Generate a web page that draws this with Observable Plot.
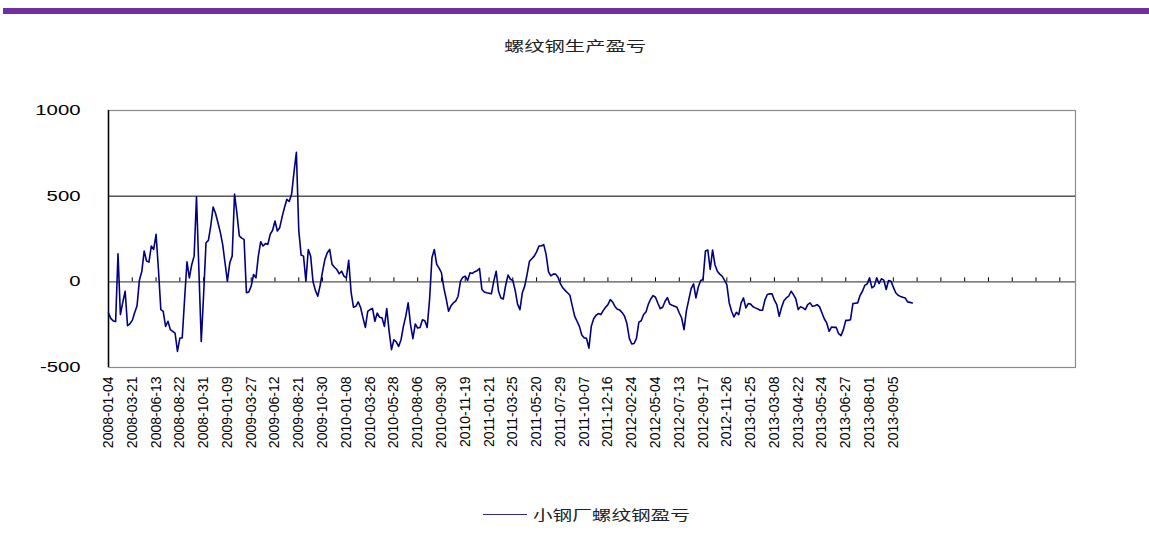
<!DOCTYPE html>
<html>
<head>
<meta charset="utf-8">
<script src="https://cdn.jsdelivr.net/npm/d3@7"></script>
<script src="https://cdn.jsdelivr.net/npm/@observablehq/plot@0.6"></script>
<style>
  html, body { margin: 0; padding: 0; background: #fff; }
  #wrap { position: relative; width: 1149px; height: 544px; overflow: hidden; }
  #bar { position: absolute; left: 3px; top: 8px; width: 1146px; height: 6px; background: #7030a0; }
  #title { position: absolute; left: 0; width: 1149px; top: 35px; text-align: center;
           font-family: "Noto Sans CJK SC", sans-serif; font-size: 14px; color: #222; }
  #title span { display: inline-block; transform: scaleX(1.45); transform-origin: center; }
  #legend { position: absolute; left: 483px; top: 504px; height: 20px; display: flex; align-items: center;
            font-family: "Noto Sans CJK SC", sans-serif; font-size: 14px; color: #222; }
  #legend .sw { width: 44px; height: 0; border-top: 1.5px solid #2a2a90; margin-right: 6px; }
  #legend span { display: inline-block; transform: scaleX(1.4); transform-origin: left center; }
  #chart { position: absolute; left: 0; top: 0; }
</style>
</head>
<body>
<div id="wrap">
  <div id="bar"></div>
  <div id="title"><span>螺纹钢生产盈亏</span></div>
  <div id="chart"></div>
  <div id="legend"><div class="sw"></div><span>小钢厂螺纹钢盈亏</span></div>
</div>
<script>
// Series: 小钢厂螺纹钢盈亏 (one value per category, in order)
const profit = [
  -182,-215,-228,-232,164,-191,-120,-55,-256,-245,
  -225,-180,-140,10,60,180,121,115,209,189,
  277,72,-162,-172,-260,-230,-279,-289,-300,-406,
  -328,-328,-100,117,23,100,150,496,74,-348,
  -74,228,242,326,437,400,346,290,219,110,
  4,111,150,512,400,268,255,248,-64,-59,
  -25,43,23,150,234,209,223,219,277,301,
  355,297,316,379,434,482,469,512,640,756,
  300,156,150,4,189,150,0,-50,-84,-20,
  60,131,170,189,102,85,72,47,62,33,
  23,125,-60,-148,-143,-117,-150,-210,-266,-172,
  -162,-155,-230,-182,-207,-210,-260,-156,-289,-396,
  -338,-350,-377,-338,-260,-200,-123,-250,-332,-246,
  -270,-266,-221,-227,-266,-104,141,189,102,80,
  53,-35,-100,-172,-140,-123,-113,-84,4,27,
  33,8,53,49,59,65,78,-45,-59,-64,
  -67,-70,4,62,-55,-94,-100,-20,39,15,
  8,-50,-130,-162,-64,-25,43,120,135,150,
  175,209,209,217,160,60,35,45,45,27,
  -10,-35,-50,-64,-78,-140,-200,-230,-260,-310,
  -326,-330,-387,-260,-215,-195,-185,-191,-168,-148,
  -133,-104,-118,-145,-160,-165,-180,-201,-245,-330,
  -363,-360,-330,-235,-227,-191,-176,-130,-100,-80,
  -90,-125,-156,-148,-115,-92,-130,-137,-142,-148,
  -182,-211,-279,-168,-104,-40,-12,-94,-30,8,
  14,180,186,72,186,100,62,45,33,10,
  -16,-123,-172,-205,-178,-191,-123,-94,-152,-127,
  -130,-146,-152,-158,-166,-166,-107,-74,-70,-70,
  -107,-133,-201,-150,-110,-94,-84,-55,-74,-100,
  -162,-146,-152,-162,-133,-123,-143,-140,-133,-146,
  -182,-217,-240,-289,-264,-266,-266,-303,-314,-279,
  -225,-225,-221,-127,-125,-123,-80,-55,-21,-12,
  23,-35,-25,23,-10,18,10,-45,8,4,
  -31,-64,-78,-85,-90,-94,-117,-120,-123
];

// Category tick labels (every 10th category)
const dateLabels = [
  "2008-01-04","2008-03-21","2008-06-13","2008-08-22","2008-10-31",
  "2009-01-09","2009-03-27","2009-06-12","2009-08-21","2009-10-30",
  "2010-01-08","2010-03-26","2010-05-28","2010-08-06","2010-09-30",
  "2010-11-19","2011-01-21","2011-03-25","2011-05-20","2011-07-29",
  "2011-10-07","2011-12-16","2012-02-24","2012-05-04","2012-07-13",
  "2012-09-17","2012-11-26","2013-01-25","2013-03-08","2013-04-22",
  "2013-05-24","2013-06-27","2013-08-01","2013-09-05"
];
const labelEvery = 10;
const axisCategories = 406.6;   // category axis extent (incl. empty slots)
const yTicks = [-500, 0, 500, 1000];
const gridValues = [500];

const data = profit.map((v, i) => ({i, v}));
const labelIdx = dateLabels.map((_, k) => k * labelEvery);
const tickIdx = d3.range(0, axisCategories, labelEvery);

const chart = Plot.plot({
  width: 1149,
  height: 544,
  marginLeft: 108,
  marginRight: 74,
  marginTop: 110,
  marginBottom: 177,
  style: {fontFamily: "'Liberation Sans', Arial, sans-serif", background: "transparent", color: "#000"},
  x: {domain: [0, axisCategories]},
  y: {domain: [-500, 1000]},
  marks: [
    Plot.frame({stroke: "#8c8c8c", strokeWidth: 1.2}),
    Plot.ruleY(gridValues, {stroke: "#000", strokeWidth: 1}),
    Plot.ruleY([0], {stroke: "#555", strokeWidth: 1.2}),
    Plot.ruleX(tickIdx, {x: d => d, y1: 0, y2: 0, insetTop: -4, stroke: "#000", strokeWidth: 1}),
    Plot.ruleX([0], {stroke: "#000", strokeWidth: 1.5}),
    Plot.line(data, {x: "i", y: "v", stroke: "#000080", strokeWidth: 1.6}),
    Plot.axisY({ticks: yTicks, tickSize: 0, tickPadding: 28, label: null, fontSize: 14,
                tickFormat: d => String(d)}),
    Plot.axisX({ticks: labelIdx, tickSize: 0, tickPadding: 9, tickRotate: -90,
                tickFormat: d => dateLabels[d / labelEvery], label: null, fontSize: 14})
  ]
});
document.getElementById("chart").appendChild(chart);

// Horizontal stretch of the original's text
chart.querySelectorAll('g[aria-label="y-axis tick label"] text').forEach(t => {
  const w = t.getComputedTextLength();
  t.setAttribute("textLength", (w * 1.45).toFixed(1));
  t.setAttribute("lengthAdjust", "spacingAndGlyphs");
});
</script>
</body>
</html>
